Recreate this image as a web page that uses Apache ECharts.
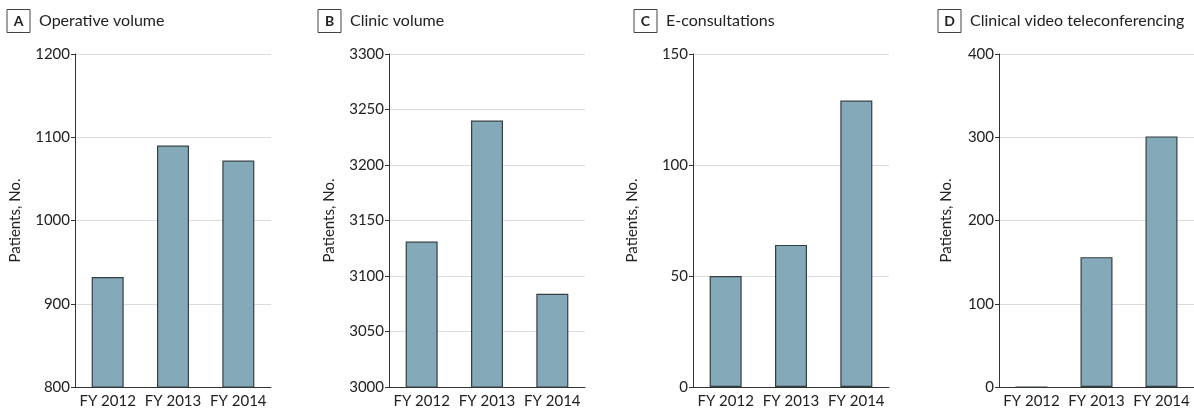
<!DOCTYPE html>
<html>
<head>
<meta charset="utf-8">
<title>Patient volume by fiscal year</title>
<script src="https://cdn.jsdelivr.net/npm/echarts@6/dist/echarts.min.js"></script>
<style>
  html, body { margin: 0; padding: 0; background: #fff; }
  #chart { width: 1194px; height: 413px; }
</style>
</head>
<body>
<div id="chart"></div>
<script>
// Fiscal years shown on every panel
const categories = ['FY 2012', 'FY 2013', 'FY 2014'];

// Patient counts per panel
const operativeVolume = [932, 1090, 1072];
const clinicVolume = [3131, 3240, 3084];
const eConsultations = [50, 64, 129];
const videoTeleconferencing = [0, 156, 301];

// Panel letters and titles
const panelLetters = ['A', 'B', 'C', 'D'];
const panelTitles = ['Operative volume', 'Clinic volume', 'E-consultations', 'Clinical video teleconferencing'];

// Y-axis ranges: [min, max, interval]
const axisRanges = [[800, 1200, 100], [3000, 3300, 50], [0, 150, 50], [0, 400, 100]];

const yAxisName = 'Patients, No.';

const seriesData = [operativeVolume, clinicVolume, eConsultations, videoTeleconferencing];

// Layout of the four panels
const gridLefts = [75, 389, 693, 999];
const gridWidth = 196;
const gridTop = 54;
const gridHeight = 333;
const titleLefts = [7, 318, 634, 938];
const nameGaps = [52, 52, 53, 45];

const FONT = 'Lato, "Noto Sans", sans-serif';
const TEXT = '#222';

const chart = echarts.init(document.getElementById('chart'), null, { renderer: 'canvas' });

const option = {
  animation: false,
  backgroundColor: '#fff',
  textStyle: { fontFamily: FONT },
  title: panelLetters.map((letter, i) => ({
    left: titleLefts[i],
    top: 13,
    padding: 0,
    text: '{box|' + letter + '}{t|' + panelTitles[i] + '}',
    textStyle: {
      fontWeight: 'normal',
      rich: {
        box: {
          fontFamily: FONT, fontSize: 14, fontWeight: 'bold', color: TEXT,
          borderColor: '#444', borderWidth: 1, width: 13, align: 'center',
          padding: [5, 5, 4, 5], lineHeight: 16
        },
        t: {
          fontFamily: FONT, fontSize: 16, fontWeight: 'normal', color: TEXT,
          padding: [0, 0, 0, 9]
        }
      }
    }
  })),
  grid: gridLefts.map(left => ({
    left: left, top: gridTop, width: gridWidth, height: gridHeight, containLabel: false
  })),
  xAxis: gridLefts.map((_, i) => ({
    type: 'category',
    gridIndex: i,
    data: categories,
    axisLine: { show: true, lineStyle: { color: '#333', width: 1 } },
    axisTick: { show: false },
    axisLabel: { color: TEXT, fontSize: 15, fontFamily: FONT, margin: 7, interval: 0 },
    splitLine: { show: false }
  })),
  yAxis: axisRanges.map((r, i) => ({
    type: 'value',
    gridIndex: i,
    min: r[0], max: r[1], interval: r[2],
    name: yAxisName,
    nameLocation: 'middle',
    nameGap: nameGaps[i],
    nameRotate: 90,
    nameTextStyle: { color: TEXT, fontSize: 15, fontFamily: FONT },
    axisLine: { show: true, lineStyle: { color: '#333', width: 1 } },
    axisTick: { show: true, length: 4, lineStyle: { color: '#333' } },
    axisLabel: {
      color: TEXT, fontSize: 15, fontFamily: FONT, margin: 5,
      formatter: v => String(v)
    },
    splitLine: { show: true, lineStyle: { color: '#dcdcdc', width: 1 } }
  })),
  series: seriesData.map((data, i) => ({
    type: 'bar',
    xAxisIndex: i,
    yAxisIndex: i,
    data: data,
    barWidth: 32,
    itemStyle: { color: '#84a9b8', borderColor: '#353f43', borderWidth: 1.2 }
  }))
};

chart.setOption(option);
</script>
</body>
</html>
